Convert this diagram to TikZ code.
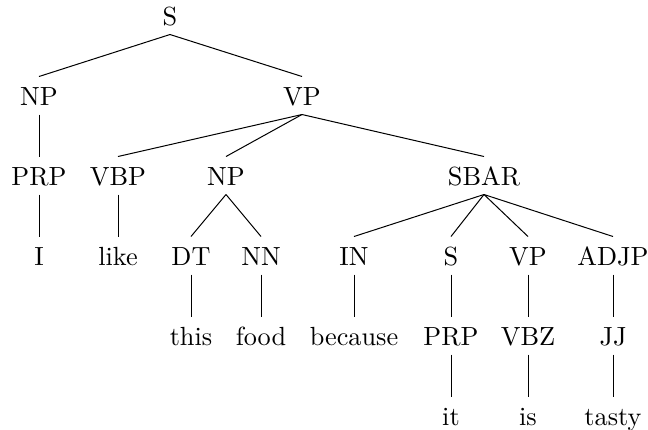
\documentclass[tikz,border=0pt]{standalone}
\begin{document}
\begin{tikzpicture}[x=0.4pt,y=-0.4pt,
  lbl/.style={anchor=base,inner sep=0pt,text height=11.2pt,text depth=3.6pt,font=\fontsize{10.5}{12.5}\selectfont},
  edge/.style={draw=black,line width=0.4pt}]
\useasboundingbox (0,0) rectangle (648,429);
% row 1
\node[lbl] (S) at (170,25) {S};
% row 2
\node[lbl] (NP1) at (39,105) {NP};
\node[lbl] (VP1) at (302,105) {VP};
% row 3
\node[lbl] (PRP1) at (39,185) {PRP};
\node[lbl] (VBP) at (118,185) {VBP};
\node[lbl] (NP2) at (226,185) {NP};
\node[lbl] (SBAR) at (484,185) {SBAR};
% row 4
\node[lbl] (I) at (39,265) {I};
\node[lbl] (like) at (118,265) {like};
\node[lbl] (DT) at (191,265) {DT};
\node[lbl] (NN) at (261,265) {NN};
\node[lbl] (IN) at (354,265) {IN};
\node[lbl] (S2) at (451,265) {S};
\node[lbl] (VP2) at (528,265) {VP};
\node[lbl] (ADJP) at (613,265) {ADJP};
% row 5
\node[lbl] (this) at (191,345) {this};
\node[lbl] (food) at (261,345) {food};
\node[lbl] (because) at (354,345) {because};
\node[lbl] (PRP2) at (451,345) {PRP};
\node[lbl] (VBZ) at (528,345) {VBZ};
\node[lbl] (JJ) at (613,345) {JJ};
% row 6
\node[lbl] (it) at (451,425) {it};
\node[lbl] (is) at (528,425) {is};
\node[lbl] (tasty) at (613,425) {tasty};
% edges
\foreach \p/\c in {S/NP1,S/VP1,NP1/PRP1,VP1/VBP,VP1/NP2,VP1/SBAR,
  PRP1/I,VBP/like,NP2/DT,NP2/NN,SBAR/IN,SBAR/S2,SBAR/VP2,SBAR/ADJP,
  DT/this,NN/food,IN/because,S2/PRP2,VP2/VBZ,ADJP/JJ,
  PRP2/it,VBZ/is,JJ/tasty}
  \draw[edge] (\p.south) -- (\c.north);
\end{tikzpicture}
\end{document}
